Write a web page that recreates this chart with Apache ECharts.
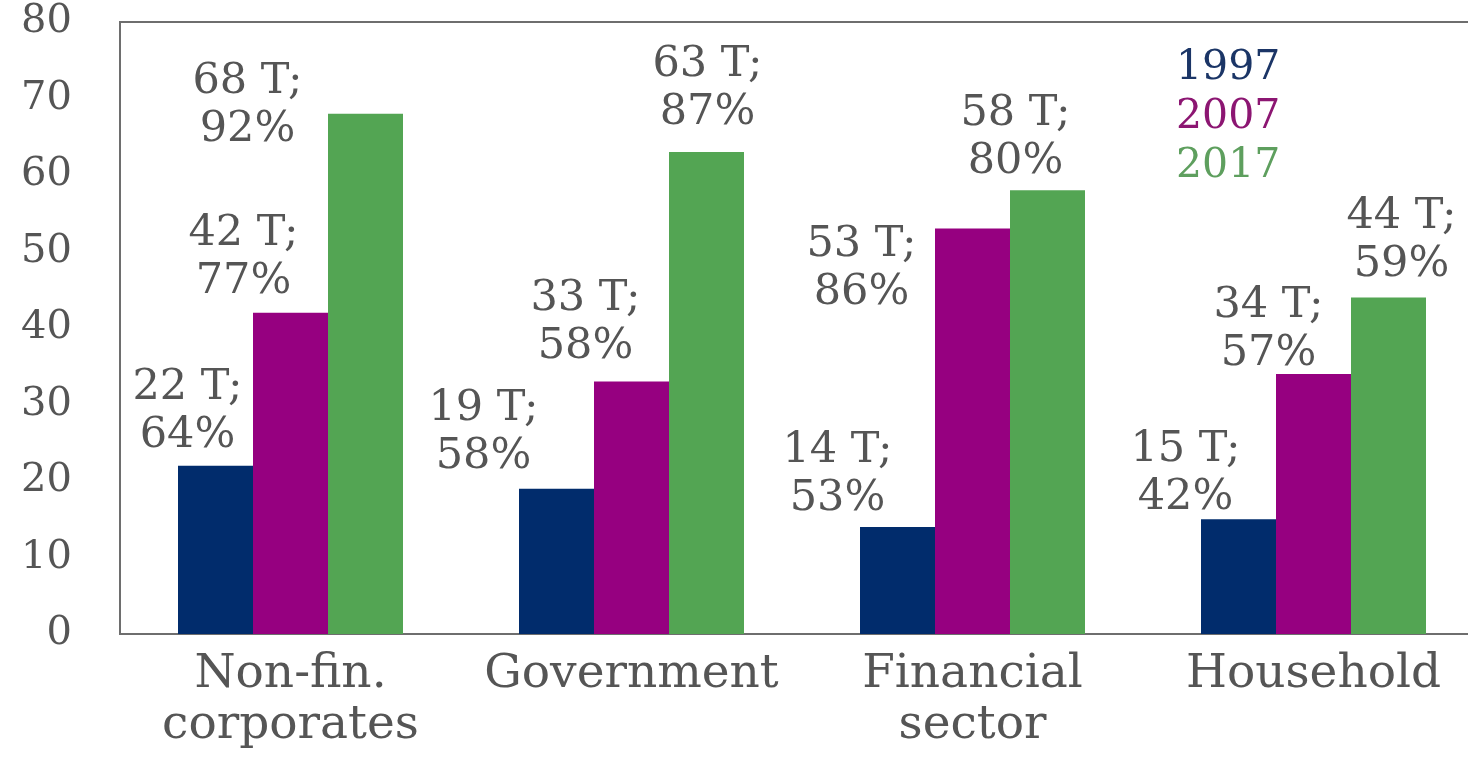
<!DOCTYPE html>
<html>
<head>
<meta charset="utf-8">
<title>Debt by sector</title>
<script src="https://cdn.jsdelivr.net/npm/echarts@6/dist/echarts.min.js"></script>
<style>
  html, body { margin: 0; padding: 0; background: #ffffff; }
  #chart { width: 1468px; height: 762px; }
</style>
</head>
<body>
<div id="chart"></div>
<script>
// Sectors on the category axis
const categories = ['Non-fin.\ncorporates', 'Government', 'Financial\nsector', 'Household'];
const years = ['1997', '2007', '2017'];

// Debt outstanding (trillions) per sector
const debt1997 = [22, 19, 14, 15];
const debt2007 = [42, 33, 53, 34];
const debt2017 = [68, 63, 58, 44];

// Share shown under each amount (%)
const share1997 = [64, 58, 53, 42];
const share2007 = [77, 58, 86, 57];
const share2017 = [92, 87, 80, 59];

// Value axis ticks
const yTicks = [0, 10, 20, 30, 40, 50, 60, 70, 80];

// Label nudges [dx, dy] relative to the top centre of each bar
const offsets1997 = [[-28, -6], [-73, -8], [-60, -4], [-53, 3]];
const offsets2007 = [[-47, -7], [-46, -11], [-111, 88], [-45, 4]];
const offsets2017 = [[-118, 40], [1, -15], [-32, -4], [13, -9]];

const colors = ['#012c6c', '#960080', '#53a553'];
const legendColors = ['#1b3566', '#8c1672', '#5e9f5e'];
const FONT = 'DejaVu Serif';
const GREY = '#555555';

function makeSeries(name, values, shares, offsets, color) {
  return {
    name: name,
    type: 'bar',
    barWidth: 75,
    barGap: '0%',
    itemStyle: { color: color },
    data: values.map((v, i) => ({
      value: v,
      label: {
        show: true,
        position: 'top',
        distance: 0,
        offset: offsets[i],
        formatter: v + ' T;\n' + shares[i] + '%',
        fontFamily: FONT,
        fontSize: 43,
        lineHeight: 48,
        color: GREY,
        align: 'center'
      }
    }))
  };
}

const chart = echarts.init(document.getElementById('chart'), null, { renderer: 'canvas' });

chart.setOption({
  animation: false,
  backgroundColor: '#ffffff',
  grid: {
    left: 120,
    top: 22,
    width: 1364,
    height: 612,
    outerBoundsMode: 'none',
    containLabel: false,
    show: true,
    borderColor: '#6e6e6e',
    borderWidth: 2,
    backgroundColor: 'transparent'
  },
  legend: {
    orient: 'vertical',
    left: 1166,
    top: 43,
    icon: 'none',
    itemWidth: 0,
    itemHeight: 0,
    itemGap: 8,
    selectedMode: false,
    textStyle: { fontFamily: FONT, fontSize: 41 },
    data: years.map((y, i) => ({ name: y, textStyle: { color: legendColors[i] } }))
  },
  xAxis: {
    type: 'category',
    data: categories,
    axisLine: { show: false },
    axisTick: { show: false },
    axisLabel: {
      fontFamily: FONT,
      fontSize: 47,
      lineHeight: 51,
      color: GREY,
      margin: 15,
      interval: 0
    }
  },
  yAxis: {
    type: 'value',
    min: yTicks[0],
    max: yTicks[yTicks.length - 1],
    interval: yTicks[1] - yTicks[0],
    splitLine: { show: false },
    axisLine: { show: false },
    axisTick: { show: false },
    axisLabel: {
      fontFamily: FONT,
      fontSize: 40,
      color: GREY,
      margin: 48
    }
  },
  series: [
    makeSeries(years[0], debt1997, share1997, offsets1997, colors[0]),
    makeSeries(years[1], debt2007, share2007, offsets2007, colors[1]),
    makeSeries(years[2], debt2017, share2017, offsets2017, colors[2])
  ]
});
</script>
</body>
</html>
